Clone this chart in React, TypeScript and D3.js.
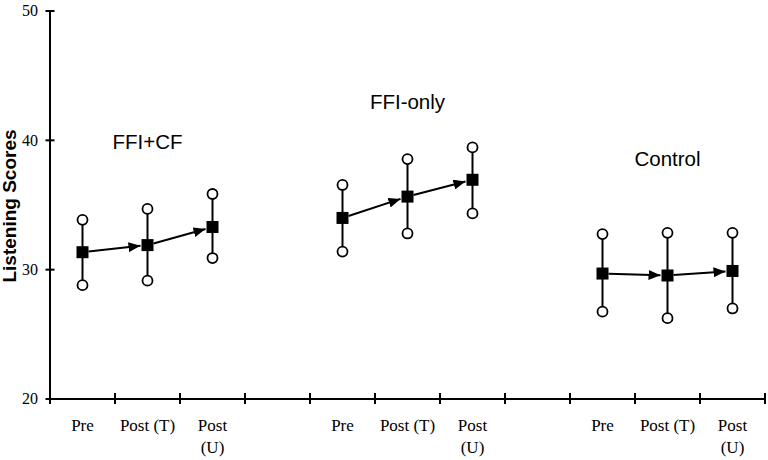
import * as d3 from "d3";

// listening scores per group, one entry per test phase
const groups = ["FFI+CF", "FFI-only", "Control"];
const phases = ["Pre", "Post (T)", "Post (U)"];
const means = [
  [31.35, 31.9, 33.3],
  [34.0, 35.65, 36.95],
  [29.7, 29.55, 29.9],
];
const upper = [
  [33.85, 34.7, 35.85],
  [36.55, 38.55, 39.45],
  [32.75, 32.85, 32.85],
];
const lower = [
  [28.8, 29.15, 30.9],
  [31.4, 32.8, 34.35],
  [26.75, 26.25, 27.0],
];
const yTicks = [20, 30, 40, 50];
const yDomain = [20, 50];

const width = 768;
const height = 460;
const margin = { left: 50, right: 3, top: 11, bottom: 61 };

// where each group's name sits, in score units
const groupLabelLevel = [39.3, 42.4, 38.0];

const serif = "'Liberation Serif', 'Times New Roman', serif";
const sans = "'Liberation Sans', Arial, sans-serif";

// slots along x: three phases per group with an empty slot in between
const slots: string[] = [];
groups.forEach((g, gi) => {
  phases.forEach((p) => slots.push(`${g}|${p}`));
  if (gi < groups.length - 1) slots.push(`gap${gi}`);
});

export default function App() {
  const x = d3
    .scaleBand<string>()
    .domain(slots)
    .range([margin.left, width - margin.right])
    .padding(0);
  const y = d3
    .scaleLinear()
    .domain(yDomain)
    .range([height - margin.bottom, margin.top]);

  const cx = (gi: number, pi: number) =>
    (x(`${groups[gi]}|${phases[pi]}`) ?? 0) + x.bandwidth() / 2;

  const half = 6;
  const axisY = y(yDomain[0]);
  const tickPositions = [...slots.map((s) => x(s) ?? 0), x.range()[1]];

  return (
    <div style={{ position: "absolute", left: 0, top: 0 }}>
      <svg width={width} height={height} style={{ display: "block", background: "#fff" }}>
        <defs>
          <marker
            id="head"
            markerUnits="userSpaceOnUse"
            markerWidth={12}
            markerHeight={10}
            refX={12}
            refY={5}
            orient="auto"
          >
            <path d="M0,0 L12,5 L0,10 Z" fill="#000" />
          </marker>
        </defs>

        {/* y axis */}
        <line x1={margin.left} x2={margin.left} y1={y(yDomain[1])} y2={axisY} stroke="#000" strokeWidth={2} />
        {yTicks.map((t) => (
          <g key={t} transform={`translate(${margin.left},${y(t)})`}>
            <line x1={-4.5} x2={4.5} stroke="#000" strokeWidth={2} />
            <text x={-12} dy="0.34em" textAnchor="end" fontFamily={serif} fontSize={16}>
              {t}
            </text>
          </g>
        ))}
        <text
          transform={`translate(16,${(y(30) + y(40)) / 2 + 1}) rotate(-90)`}
          textAnchor="middle"
          fontFamily={sans}
          fontWeight="bold"
          fontSize={19}
        >
          Listening Scores
        </text>

        {/* x axis */}
        <line x1={margin.left} x2={x.range()[1]} y1={axisY} y2={axisY} stroke="#000" strokeWidth={2} />
        {tickPositions.map((tx, i) => (
          <line key={i} x1={tx} x2={tx} y1={axisY - 6} y2={axisY + 5} stroke="#000" strokeWidth={2} />
        ))}
        {groups.map((g, gi) =>
          phases.map((p, pi) => {
            const lines = p === "Post (U)" ? ["Post", "(U)"] : [p];
            return (
              <text
                key={`${g}-${p}`}
                x={cx(gi, pi)}
                y={axisY + 32}
                textAnchor="middle"
                fontFamily={serif}
                fontSize={17}
              >
                {lines.map((l, li) => (
                  <tspan key={li} x={cx(gi, pi)} dy={li === 0 ? 0 : 22}>
                    {l}
                  </tspan>
                ))}
              </text>
            );
          })
        )}

        {/* group names */}
        {groups.map((g, gi) => (
          <text
            key={g}
            x={cx(gi, 1)}
            y={y(groupLabelLevel[gi])}
            textAnchor="middle"
            fontFamily={sans}
            fontSize={20.5}
          >
            {g}
          </text>
        ))}

        {/* range whiskers with open end circles */}
        {groups.map((g, gi) =>
          phases.map((p, pi) => (
            <g key={`w-${g}-${p}`}>
              <line
                x1={cx(gi, pi)}
                x2={cx(gi, pi)}
                y1={y(upper[gi][pi])}
                y2={y(lower[gi][pi])}
                stroke="#000"
                strokeWidth={2}
              />
              {[upper[gi][pi], lower[gi][pi]].map((v, k) => (
                <circle key={k} cx={cx(gi, pi)} cy={y(v)} r={5} fill="#fff" stroke="#000" strokeWidth={1.8} />
              ))}
            </g>
          ))
        )}

        {/* arrows between consecutive means */}
        {groups.map((g, gi) =>
          phases.slice(0, -1).map((p, pi) => {
            const x1 = cx(gi, pi);
            const x2 = cx(gi, pi + 1);
            const y1 = y(means[gi][pi]);
            const y2 = y(means[gi][pi + 1]);
            const slope = (y2 - y1) / (x2 - x1);
            return (
              <line
                key={`a-${g}-${p}`}
                x1={x1 + half}
                y1={y1 + slope * half}
                x2={x2 - half - 1}
                y2={y2 - slope * (half + 1)}
                stroke="#000"
                strokeWidth={2}
                markerEnd="url(#head)"
              />
            );
          })
        )}

        {/* mean markers */}
        {groups.map((g, gi) =>
          phases.map((p, pi) => (
            <rect
              key={`m-${g}-${p}`}
              x={cx(gi, pi) - half}
              y={y(means[gi][pi]) - half}
              width={half * 2}
              height={half * 2}
              fill="#000"
            />
          ))
        )}
      </svg>
    </div>
  );
}
